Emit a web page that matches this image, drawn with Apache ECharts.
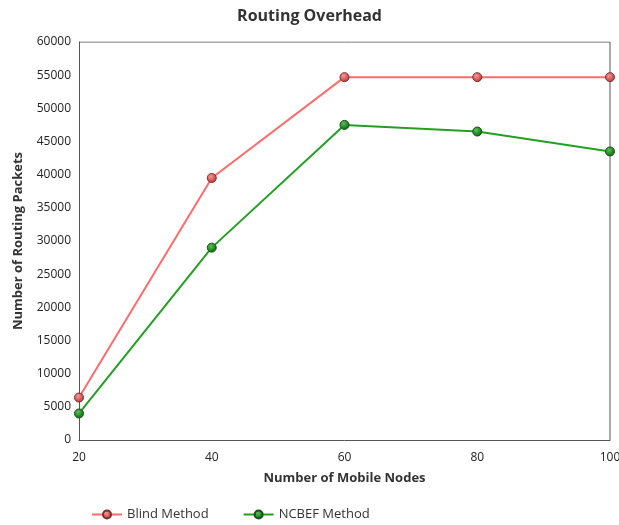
<!DOCTYPE html>
<html>
<head>
<meta charset="utf-8">
<script src="https://cdn.jsdelivr.net/npm/echarts@6/dist/echarts.min.js"></script>
<style>
  html, body { margin: 0; padding: 0; background: #fff; }
  #chart { width: 619px; height: 525px; }
</style>
</head>
<body>
<div id="chart"></div>
<script>
// Number of mobile nodes on the x axis
const nodes = [20, 40, 60, 80, 100];
// Routing packets per method
const blindMethod = [6400, 39500, 54700, 54700, 54700];
const ncbefMethod = [4000, 29000, 47500, 46500, 43500];

const font = '"Open Sans", sans-serif';

function pairs(xs, ys) {
  return xs.map((x, i) => [x, ys[i]]);
}

function ball(light, mid, dark) {
  return new echarts.graphic.RadialGradient(0.4, 0.35, 0.7, [
    { offset: 0, color: light },
    { offset: 0.6, color: mid },
    { offset: 1, color: dark }
  ]);
}

const chart = echarts.init(document.getElementById('chart'));
chart.setOption({
  animation: false,
  backgroundColor: '#fff',
  textStyle: { fontFamily: font },
  title: {
    text: 'Routing Overhead',
    left: 'center',
    top: 3,
    textStyle: { fontFamily: font, fontSize: 16, fontWeight: 'bold', color: '#333' }
  },
  grid: { left: 79, right: 9, top: 42, bottom: 85, show: false, outerBoundsMode: 'none', containLabel: false },
  legend: {
    bottom: -1,
    left: 86,
    itemGap: 34,
    itemWidth: 30,
    itemHeight: 10,
    textStyle: { fontFamily: font, fontSize: 13, color: '#333' },
    data: ['Blind Method', 'NCBEF Method']
  },
  xAxis: {
    type: 'value',
    min: 20,
    max: 100,
    interval: 20,
    name: 'Number of Mobile Nodes',
    nameLocation: 'middle',
    nameGap: 32,
    nameTextStyle: { fontFamily: font, fontSize: 13, fontWeight: 'bold', color: '#333' },
    axisLine: { show: true, lineStyle: { color: '#555', width: 1 } },
    axisTick: { show: false },
    splitLine: { show: false },
    axisLabel: { fontFamily: font, fontSize: 12, color: '#222', margin: 12, formatter: v => String(v) }
  },
  yAxis: {
    type: 'value',
    min: 0,
    max: 60000,
    interval: 5000,
    name: 'Number of Routing Packets',
    nameLocation: 'middle',
    nameGap: 54,
    nameTextStyle: { fontFamily: font, fontSize: 13, fontWeight: 'bold', color: '#333' },
    axisLine: { show: true, lineStyle: { color: '#555', width: 1 } },
    axisTick: { show: false },
    splitLine: { show: false },
    axisLabel: { fontFamily: font, fontSize: 12, color: '#222', margin: 8, formatter: v => String(v) }
  },
  series: [
    {
      name: 'Blind Method',
      type: 'line',
      data: pairs(nodes, blindMethod),
      symbol: 'circle',
      symbolSize: 9,
      lineStyle: { color: '#ff6b6b', width: 2 },
      itemStyle: { color: ball('#f29a9a', '#d95555', '#a83838'), borderColor: '#7a3030', borderWidth: 1 },
      z: 3
    },
    {
      name: 'NCBEF Method',
      type: 'line',
      data: pairs(nodes, ncbefMethod),
      symbol: 'circle',
      symbolSize: 9,
      lineStyle: { color: '#22a022', width: 2 },
      itemStyle: { color: ball('#5cc05c', '#1e8a1e', '#0f5a0f'), borderColor: '#1d4d1d', borderWidth: 1 },
      z: 3
    },
    {
      // top and right frame lines of the plot area
      type: 'line',
      data: [[20, 60000], [100, 60000], [100, 0]],
      symbol: 'none',
      silent: true,
      lineStyle: { color: '#555', width: 1 },
      tooltip: { show: false },
      z: 1
    }
  ]
});
</script>
</body>
</html>
